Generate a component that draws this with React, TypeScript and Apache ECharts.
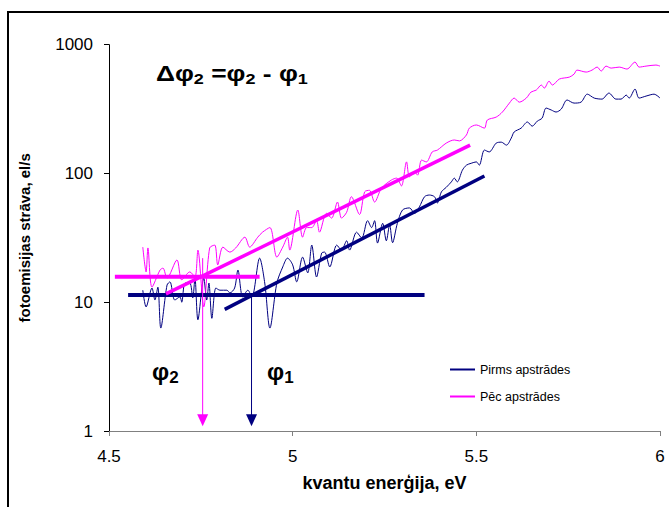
import React, { useEffect, useRef } from 'react';
import * as echarts from 'echarts';

const FONT = '"Liberation Sans", Arial, sans-serif';

const energyPirms = [
  4.592, 4.601, 4.617, 4.625, 4.633, 4.641, 4.658, 4.666, 4.679, 4.693, 4.698, 4.707, 4.72, 4.728, 4.734, 4.742,
  4.758, 4.766, 4.772, 4.78, 4.791, 4.802, 4.821, 4.829, 4.842, 4.851, 4.864, 4.878, 4.889, 4.91, 4.924, 4.938,
  4.957, 4.973, 4.986, 5.0, 5.011, 5.027, 5.041, 5.052, 5.065, 5.079, 5.087, 5.101, 5.12, 5.133, 5.147, 5.155,
  5.174, 5.188, 5.204, 5.215, 5.223, 5.231, 5.245, 5.255, 5.264, 5.272, 5.285, 5.299, 5.318, 5.332, 5.345, 5.359,
  5.372, 5.386, 5.394, 5.405, 5.418, 5.432, 5.44, 5.448, 5.462, 5.473, 5.486, 5.5, 5.508, 5.522, 5.535, 5.554,
  5.568, 5.582, 5.595, 5.603, 5.622, 5.639, 5.652, 5.666, 5.679, 5.69, 5.704, 5.717, 5.731, 5.747, 5.766, 5.785,
  5.802, 5.821, 5.842, 5.861, 5.88, 5.894, 5.908, 5.916, 5.932, 5.943, 5.962, 5.984, 6.0,
];
const currentPirms = [
  12.4, 9.2, 12.9, 10.4, 13.1, 6.3, 13.6, 14.4, 10.4, 11.0, 10.0, 14.1, 14.1, 10.8, 15.4, 7.3,
  15.4, 10.4, 14.1, 7.5, 12.9, 12.4, 12.4, 11.8, 12.9, 17.8, 11.0, 12.4, 11.0, 22.0, 14.1, 6.3,
  14.1, 18.8, 22.0, 19.5, 14.4, 22.4, 16.9, 27.8, 15.7, 24.1, 24.5, 18.8, 27.8, 25.4, 30, 25.4,
  35, 31.5, 43, 38, 43, 28.8, 41, 30, 40, 29, 41, 52, 54, 49, 55, 66,
  68, 66, 59, 72, 78, 86, 92, 86, 106, 116, 120, 123, 116, 152, 147, 172,
  175, 166, 188, 210, 225, 251, 233, 255, 269, 322, 311, 300, 316, 372, 352, 358,
  413, 385, 378, 421, 378, 378, 406, 385, 452, 385, 399, 413, 385,
];

const energyPec = [
  4.592, 4.601, 4.606, 4.617, 4.639, 4.647, 4.658, 4.685, 4.698, 4.72, 4.734, 4.742, 4.758, 4.774, 4.788, 4.796,
  4.81, 4.829, 4.845, 4.87, 4.883, 4.905, 4.918, 4.938, 4.957, 4.973, 4.986, 4.992, 5.014, 5.027, 5.038, 5.052,
  5.065, 5.073, 5.092, 5.106, 5.122, 5.133, 5.147, 5.16, 5.182, 5.196, 5.209, 5.223, 5.242, 5.269, 5.283, 5.296,
  5.31, 5.318, 5.332, 5.34, 5.351, 5.364, 5.38, 5.394, 5.418, 5.44, 5.454, 5.473, 5.481, 5.5, 5.522, 5.53,
  5.554, 5.571, 5.59, 5.603, 5.617, 5.636, 5.649, 5.663, 5.677, 5.685, 5.698, 5.707, 5.726, 5.753, 5.766, 5.774,
  5.799, 5.815, 5.829, 5.84, 5.853, 5.867, 5.889, 5.91, 5.932, 5.943, 5.962, 5.989, 6.0,
];
const currentPec = [
  26.8, 17.2, 26.4, 13.1, 17.8, 18.4, 15.4, 21.3, 14.9, 17.2, 15.7, 25.4, 9.2, 26.4, 27.8, 19.5,
  26.8, 24.5, 26.4, 32, 26.8, 32, 35, 38, 22.4, 26.8, 32, 25.4, 52, 32, 38, 38,
  43, 35, 49, 45, 60, 45, 50, 66, 48, 72, 74, 60, 77, 89, 92, 80,
  123, 94, 103, 97, 127, 123, 147, 152, 172, 182, 179, 199, 225, 238, 225, 260,
  274, 300, 352, 385, 358, 385, 429, 444, 486, 460, 521, 486, 541, 560, 591, 635,
  613, 635, 670, 624, 682, 658, 670, 647, 733, 670, 682, 695, 682,
];

// threshold construction lines
const levelPecX = [4.516, 4.91];
const levelPecY = 15.8;
const levelPirmsX = [4.552, 5.359];
const levelPirmsY = 11.4;
const fitPecX = [4.655, 5.483];
const fitPecY = [11.6, 166];
const fitPirmsX = [4.815, 5.522];
const fitPirmsY = [8.81, 95.5];
const phi2 = 4.755;
const phi1 = 4.888;
const arrowTopPec = 22;
const arrowTopPirms = 11.4;
const arrowEnd = 1.21;

const NAVY = '#000080';
const MAGENTA = '#FF00FF';

const zip = (xs: number[], ys: number[]) => xs.map((x, i) => [x, ys[i]]);

export default function App() {
  const ref = useRef<HTMLDivElement>(null);
  useEffect(() => {
    const chart = echarts.init(ref.current!, null, { renderer: 'svg' });
    const thin = (name: string, color: string, data: number[][]) => ({
      name,
      type: 'line',
      data,
      smooth: 0.3,
      symbol: 'none',
      lineStyle: { color, width: 1 },
      itemStyle: { color },
      z: 2,
    });
    const thick = (color: string, data: number[][], width: number) => ({
      type: 'line',
      data,
      symbol: 'none',
      lineStyle: { color, width },
      itemStyle: { color },
      z: 3,
    });
    const arrow = (color: string, x: number, top: number) => ({
      type: 'line',
      data: [
        { value: [x, top], symbol: 'none' },
        { value: [x, arrowEnd], symbol: 'triangle', symbolSize: [11, 12], symbolRotate: 180 },
      ],
      showSymbol: true,
      symbol: 'none',
      lineStyle: { color, width: 1 },
      itemStyle: { color },
      z: 4,
    });
    const base = { fontWeight: 'bold', color: '#000', fontFamily: FONT };
    const rich = {
      B: { ...base, fontSize: 24, lineHeight: 30 },
      S: { ...base, fontSize: 17, lineHeight: 17, verticalAlign: 'bottom' },
    };
    const gbase = { fontWeight: 'bold', fill: '#000', fontFamily: FONT };
    const grich = {
      b: { ...gbase, fontSize: 22, lineHeight: 28 },
      s: { ...gbase, fontSize: 15, lineHeight: 19, verticalAlign: 'bottom' },
    };
    chart.setOption({
      animation: false,
      backgroundColor: '#fff',
      title: [
        { text: '{B|φ}{S|2}', left: 152, top: 356, padding: 0, textStyle: { rich } },
        { text: '{B|φ}{S|1}', left: 267, top: 356, padding: 0, textStyle: { rich } },
      ],
      legend: {
        data: ['Pirms apstrādes', 'Pēc apstrādes'],
        orient: 'vertical',
        left: 444,
        top: 358,
        itemWidth: 25,
        itemHeight: 14,
        itemGap: 14,
        itemStyle: { opacity: 0 },
        textStyle: { fontSize: 12.5, fontFamily: FONT, color: '#000' },
      },
      grid: { left: 109, right: 9, top: 44.7, bottom: 76 },
      xAxis: {
        type: 'value',
        min: 4.5,
        max: 6,
        interval: 0.5,
        name: 'kvantu enerģija, eV',
        nameLocation: 'middle',
        nameGap: 43,
        nameTextStyle: { fontSize: 18, fontWeight: 'bold', fontFamily: FONT, color: '#000' },
        axisLine: { lineStyle: { color: '#808080', width: 1 } },
        axisTick: { inside: false, length: 5, lineStyle: { color: '#808080' } },
        axisLabel: { fontSize: 17, fontFamily: FONT, color: '#000', margin: 17 },
        splitLine: { show: false },
      },
      yAxis: {
        type: 'log',
        logBase: 10,
        min: 1,
        max: 1000,
        name: 'fotoemisijas strāva, el/s',
        nameLocation: 'middle',
        nameGap: 77,
        nameTextStyle: { fontSize: 15, fontWeight: 'bold', fontFamily: FONT, color: '#000' },
        axisLine: { show: true, lineStyle: { color: '#000', width: 1 } },
        axisTick: { show: true, inside: false, length: 5, lineStyle: { color: '#000' } },
        axisLabel: {
          fontSize: 17,
          fontFamily: FONT,
          color: '#000',
          margin: 16,
          formatter: (v: number) => String(Math.round(v)),
        },
        splitLine: { show: false },
        minorTick: { show: false },
      },
      graphic: [
        {
          type: 'rect',
          silent: true,
          shape: { x: 8, y: 12, width: 720, height: 600 },
          style: { fill: 'none', stroke: '#000', lineWidth: 2 },
        },
        {
          type: 'text',
          silent: true,
          x: 156,
          y: 59,
          scaleX: 1.2,
          style: {
            text: '{b|Δφ}{s|2}{b| =φ}{s|2}{b| - φ}{s|1}',
            align: 'left',
            verticalAlign: 'top',
            rich: grich,
          },
        },
      ],
      series: [
        thin('Pirms apstrādes', NAVY, zip(energyPirms, currentPirms)),
        thin('Pēc apstrādes', MAGENTA, zip(energyPec, currentPec)),
        thick(MAGENTA, [[levelPecX[0], levelPecY], [levelPecX[1], levelPecY]], 4),
        thick(NAVY, [[levelPirmsX[0], levelPirmsY], [levelPirmsX[1], levelPirmsY]], 4),
        thick(MAGENTA, zip(fitPecX, fitPecY), 3.5),
        thick(NAVY, zip(fitPirmsX, fitPirmsY), 3.5),
        arrow(MAGENTA, phi2, arrowTopPec),
        arrow(NAVY, phi1, arrowTopPirms),
      ],
    });
    return () => chart.dispose();
  }, []);
  return <div ref={ref} style={{ position: 'absolute', left: 0, top: 0, width: 669, height: 507 }} />;
}
